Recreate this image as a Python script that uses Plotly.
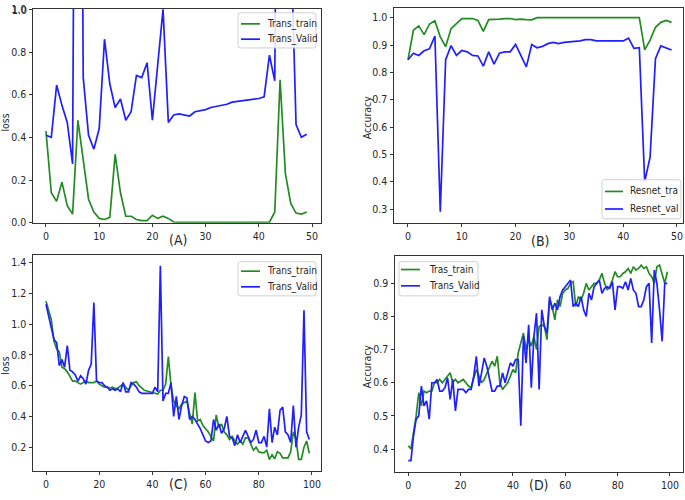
import plotly.graph_objects as go

# ---------------- data ----------------
a_train = [0.43, 0.14, 0.10, 0.19, 0.08, 0.04, 0.48, 0.30, 0.11, 0.05,
           0.02, 0.015, 0.025, 0.32, 0.14, 0.03, 0.03, 0.015, 0.01, 0.01,
           0.035, 0.02, 0.03, 0.02, 0.003, 0.002, 0.002, 0.002, 0.002, 0.002,
           0.002, 0.002, 0.002, 0.002, 0.002, 0.002, 0.002, 0.002, 0.002, 0.002,
           0.002, 0.002, 0.002, 0.05, 0.67, 0.23, 0.09, 0.045, 0.04, 0.05]
a_valid = [0.41, 0.40, 0.645, 0.55, 0.47, 0.275, 5.0, 0.68, 0.41, 0.345,
           0.44, 0.86, 0.65, 0.54, 0.58, 0.48, 0.52, 0.69, 0.68, 0.75,
           0.48, 0.73, 1.0, 0.47, 0.505, 0.51, 0.505, 0.50, 0.52, 0.525,
           0.53, 0.54, 0.545, 0.55, 0.555, 0.565, 0.568, 0.572, 0.575, 0.58,
           0.582, 0.59, 0.785, 0.665, 4.0, 2.0, 1.36, 0.46, 0.40, 0.415]

b_train = [0.846, 0.954, 0.97, 0.938, 0.977, 0.989, 0.93, 0.894, 0.96, 0.98,
           0.997, 0.997, 0.997, 0.99, 0.95, 0.993, 0.993, 0.995, 0.997, 0.997,
           0.993, 0.995, 0.993, 0.992, 1.0, 1.0, 1.0, 1.0, 1.0, 1.0,
           1.0, 1.0, 1.0, 1.0, 1.0, 1.0, 1.0, 1.0, 1.0, 1.0,
           1.0, 1.0, 1.0, 1.0, 0.882, 0.918, 0.965, 0.983, 0.99, 0.983]
b_valid = [0.846, 0.87, 0.862, 0.879, 0.886, 0.933, 0.29, 0.846, 0.898, 0.862,
           0.88, 0.875, 0.862, 0.86, 0.823, 0.875, 0.83, 0.87, 0.875, 0.875,
           0.902, 0.862, 0.82, 0.902, 0.89, 0.895, 0.905, 0.91, 0.905, 0.91,
           0.912, 0.912, 0.915, 0.92, 0.92, 0.915, 0.915, 0.915, 0.915, 0.915,
           0.915, 0.925, 0.888, 0.89, 0.40, 0.49, 0.85, 0.897, 0.888, 0.882]

c_train = [1.15, 1.08, 1.03, 0.89, 0.84, 0.82, 0.72, 0.71, 0.69, 0.66,
           0.63, 0.63, 0.62, 0.61, 0.62, 0.63, 0.62, 0.62, 0.62, 0.63,
           0.61, 0.60, 0.59, 0.59, 0.585, 0.59, 0.58, 0.585, 0.60, 0.61,
           0.59, 0.57, 0.60, 0.62, 0.625, 0.60, 0.585, 0.57, 0.565, 0.56,
           0.56, 0.55, 0.545, 0.57, 0.57, 0.61, 0.79, 0.60, 0.50, 0.47,
           0.45, 0.48, 0.49, 0.50, 0.42, 0.35, 0.555, 0.37, 0.38, 0.34,
           0.32, 0.30, 0.27, 0.24, 0.41, 0.33, 0.35, 0.30, 0.28, 0.25,
           0.27, 0.24, 0.22, 0.24, 0.22, 0.26, 0.26, 0.22, 0.18, 0.20,
           0.17, 0.165, 0.165, 0.18, 0.12, 0.15, 0.125, 0.17, 0.16, 0.13,
           0.13, 0.13, 0.17, 0.30, 0.25, 0.12, 0.12, 0.20, 0.24, 0.16]
c_valid = [1.13, 1.06, 0.97, 0.90, 0.88, 0.73, 0.77, 0.72, 0.86, 0.70,
           0.69, 0.67, 0.63, 0.665, 0.645, 0.61, 0.70, 0.74, 1.14, 0.63,
           0.62, 0.62, 0.60, 0.59, 0.57, 0.58, 0.57, 0.58, 0.56, 0.62,
           0.56, 0.56, 0.62, 0.61, 0.59, 0.56, 0.55, 0.55, 0.55, 0.55,
           0.55, 0.59, 0.56, 1.38, 0.50, 0.55, 0.55, 0.62, 0.40, 0.53,
           0.38, 0.47, 0.53, 0.52, 0.38, 0.40, 0.38, 0.35, 0.32, 0.28,
           0.24, 0.23, 0.24, 0.38, 0.31, 0.35, 0.29, 0.32, 0.40, 0.27,
           0.26, 0.21, 0.28, 0.23, 0.27, 0.31, 0.27, 0.23, 0.25, 0.31,
           0.23, 0.23, 0.27, 0.20, 0.45, 0.23, 0.33, 0.28, 0.44, 0.46,
           0.30, 0.28, 0.23, 0.47, 0.20, 0.33, 0.41, 1.09, 0.30, 0.25]

d_train = [0.41, 0.40, 0.45, 0.50, 0.57, 0.53, 0.575, 0.57, 0.575, 0.575,
           0.60, 0.60, 0.61, 0.60, 0.61, 0.62, 0.63, 0.60, 0.61, 0.60,
           0.605, 0.61, 0.60, 0.59, 0.585, 0.61, 0.64, 0.62, 0.60, 0.61,
           0.63, 0.645, 0.665, 0.65, 0.68, 0.60, 0.58, 0.59, 0.60, 0.62,
           0.64, 0.63, 0.69, 0.72, 0.75, 0.70, 0.73, 0.71, 0.74, 0.70,
           0.77, 0.775, 0.77, 0.73, 0.85, 0.83, 0.79, 0.85, 0.83, 0.87,
           0.88, 0.885, 0.90, 0.905, 0.83, 0.86, 0.85, 0.87, 0.90, 0.88,
           0.89, 0.90, 0.90, 0.91, 0.93, 0.90, 0.88, 0.89, 0.91, 0.935,
           0.92, 0.92, 0.93, 0.935, 0.945, 0.93, 0.95, 0.94, 0.945, 0.955,
           0.945, 0.95, 0.93, 0.92, 0.90, 0.95, 0.955, 0.93, 0.90, 0.935]
d_valid = [0.365, 0.365, 0.44, 0.49, 0.50, 0.59, 0.53, 0.545, 0.49, 0.60,
           0.60, 0.61, 0.575, 0.575, 0.585, 0.615, 0.55, 0.61, 0.515, 0.58,
           0.58, 0.58, 0.57, 0.58, 0.58, 0.62, 0.68, 0.59, 0.63, 0.675,
           0.65, 0.61, 0.575, 0.575, 0.59, 0.59, 0.63, 0.60, 0.63, 0.66,
           0.65, 0.67, 0.67, 0.47, 0.74, 0.66, 0.775, 0.585, 0.74, 0.81,
           0.58, 0.82, 0.77, 0.75, 0.86, 0.82, 0.84, 0.82, 0.86, 0.88,
           0.89, 0.90, 0.91, 0.83, 0.84, 0.83, 0.86, 0.82, 0.80, 0.87,
           0.85, 0.89, 0.90, 0.91, 0.87, 0.885, 0.89, 0.885, 0.905, 0.82,
           0.89, 0.89, 0.885, 0.905, 0.88, 0.915, 0.88, 0.87, 0.83, 0.83,
           0.85, 0.89, 0.90, 0.72, 0.94, 0.90, 0.82, 0.725, 0.90, 0.90]

legend_a = ["Trans_train", "Trans_Valid"]
legend_b = ["Resnet_tra", "Resnet_val"]
legend_c = ["Trans_train", "Trans_Valid"]
legend_d = ["Tras_train", "Trans_Valid"]
panel_labels = ["(A)", "(B)", "(C)", "(D)"]
ylabels = ["loss", "Accuracy", "loss", "Accuracy"]

# ---------------- styling ----------------
W, H = 685, 500
GREEN = "#228B22"
BLUE = "#1f1fff"
FONT = "DejaVu Sans Condensed, Liberation Sans Narrow, DejaVu Sans, sans-serif"
TXT = "#262626"


def px(x):
    return x / W


def py(y):
    return 1 - y / H


fig = go.Figure()

panels = [
    dict(tr=a_train, va=a_valid, xd=(33, 321), yd=(3, 222), xr=(-2.44, 51.69),
         yr=(0, 1.002), yt=[0, 0.2, 0.4, 0.6, 0.8, 1.0], xt=[0, 10, 20, 30, 40, 50]),
    dict(tr=b_train, va=b_valid, xd=(394, 683), yd=(2, 222), xr=(-2.6, 51.12),
         yr=(0.25, 1.0357), yt=[0.3, 0.4, 0.5, 0.6, 0.7, 0.8, 0.9, 1.0],
         xt=[0, 10, 20, 30, 40, 50]),
    dict(tr=c_train, va=c_valid, xd=(33, 321), yd=(255, 476), xr=(-4.89, 103.4),
         yr=(0.0476, 1.4508), yt=[0.2, 0.4, 0.6, 0.8, 1.0, 1.2, 1.4],
         xt=[0, 20, 40, 60, 80, 100]),
    dict(tr=d_train, va=d_valid, xd=(395, 683), yd=(256, 477), xr=(-5.08, 104.97),
         yr=(0.332, 0.983), yt=[0.4, 0.5, 0.6, 0.7, 0.8, 0.9],
         xt=[0, 20, 40, 60, 80, 100]),
]

legends = [legend_a, legend_b, legend_c, legend_d]

for i, p in enumerate(panels):
    sfx = "" if i == 0 else str(i + 1)
    xa, ya = "x" + sfx, "y" + sfx
    n = len(p["tr"])
    xs = list(range(n))
    fig.add_trace(go.Scatter(x=xs, y=p["tr"], mode="lines", xaxis=xa, yaxis=ya,
                             line=dict(color=GREEN, width=1.7), name=legends[i][0],
                             showlegend=False))
    fig.add_trace(go.Scatter(x=xs, y=p["va"], mode="lines", xaxis=xa, yaxis=ya,
                             line=dict(color=BLUE, width=1.7), name=legends[i][1],
                             showlegend=False))
    common = dict(showline=True, linecolor="#333333", linewidth=1, mirror=True,
                  ticks="outside", ticklen=3.5, tickcolor="#333333", tickwidth=0.8,
                  showgrid=False, zeroline=False, ticklabeloverflow="allow",
                  tickfont=dict(family=FONT, size=10.5, color=TXT))
    fig.update_layout(**{
        "xaxis" + sfx: dict(domain=[px(p["xd"][0]), px(p["xd"][1])],
                            range=list(p["xr"]), anchor=ya,
                            tickvals=p["xt"], ticktext=[str(t) for t in p["xt"]],
                            **common),
        "yaxis" + sfx: dict(domain=[py(p["yd"][1]), py(p["yd"][0])],
                            range=list(p["yr"]), anchor=xa,
                            tickvals=p["yt"], ticktext=["%.1f" % t for t in p["yt"]],
                            **common),
    })

# ---------------- legends (drawn boxes) ----------------
leg_geo = [
    dict(box=(238, 7, 316, 43), lx=(241, 260), ly=(18.3, 34), tx=265),
    dict(box=(602, 178, 681, 218), lx=(605, 623), ly=(190, 208), tx=628),
    dict(box=(238, 262, 316, 297), lx=(241, 260), ly=(271.7, 287.7), tx=265),
    dict(box=(399, 262, 478, 297), lx=(401, 420), ly=(270, 286.7), tx=427),
]
shapes = []
annotations = []
for g, labels in zip(leg_geo, legends):
    x0, y0, x1, y1 = g["box"]
    r = 2.5
    path = (f"M {px(x0 + r)},{py(y0)} L {px(x1 - r)},{py(y0)} "
            f"Q {px(x1)},{py(y0)} {px(x1)},{py(y0 + r)} "
            f"L {px(x1)},{py(y1 - r)} Q {px(x1)},{py(y1)} {px(x1 - r)},{py(y1)} "
            f"L {px(x0 + r)},{py(y1)} Q {px(x0)},{py(y1)} {px(x0)},{py(y1 - r)} "
            f"L {px(x0)},{py(y0 + r)} Q {px(x0)},{py(y0)} {px(x0 + r)},{py(y0)} Z")
    shapes.append(dict(type="path", path=path, xref="paper", yref="paper",
                       line=dict(color="#d0d0d0", width=1),
                       fillcolor="rgba(255,255,255,0.85)", layer="above"))
    for col, yy, lab in zip([GREEN, BLUE], g["ly"], labels):
        shapes.append(dict(type="line", xref="paper", yref="paper",
                           x0=px(g["lx"][0]), x1=px(g["lx"][1]), y0=py(yy), y1=py(yy),
                           line=dict(color=col, width=1.7), layer="above"))
        annotations.append(dict(text=lab, xref="paper", yref="paper", x=px(g["tx"]),
                                y=py(yy), xanchor="left", yanchor="middle",
                                showarrow=False,
                                font=dict(family=FONT, size=10, color=TXT)))

# top tick label of panel A (plotly hides it at the page edge; reference shows it clipped)
annotations.append(dict(text="1.0", xref="paper", yref="paper", x=px(28.5), y=py(4.5),
                        xanchor="right", yanchor="middle", showarrow=False,
                        font=dict(family=FONT, size=10.5, color=TXT)))

# axis labels
ylab_pos = [(5.5, 120), (367, 114), (5.5, 369), (367, 369)]
for lab, (x, y) in zip(ylabels, ylab_pos):
    annotations.append(dict(text=lab, xref="paper", yref="paper", x=px(x), y=py(y),
                            xanchor="center", yanchor="middle", textangle=-90,
                            showarrow=False, font=dict(family=FONT, size=10.5, color=TXT)))

# panel labels
plab_pos = [(178, 240), (539.5, 240.5), (178, 490), (539, 491)]
for lab, (x, y) in zip(panel_labels, plab_pos):
    annotations.append(dict(text=lab, xref="paper", yref="paper", x=px(x), y=py(y),
                            xanchor="center", yanchor="middle", showarrow=False,
                            font=dict(family=FONT, size=14, color=TXT)))

fig.update_layout(width=W, height=H, margin=dict(l=0, r=0, t=0, b=0),
                  paper_bgcolor="white", plot_bgcolor="white",
                  shapes=shapes, annotations=annotations, showlegend=False)

fig.write_html("out.html", config={"displayModeBar": False},
               post_script="document.body.style.margin='0';"
                           "document.body.style.padding='0';"
                           "document.documentElement.style.overflow='hidden';")
